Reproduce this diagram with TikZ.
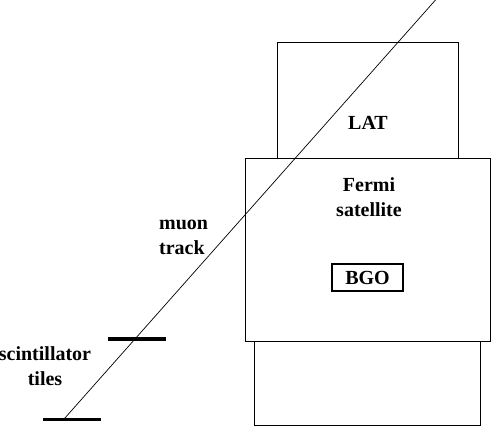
\documentclass[tikz,border=0pt]{standalone}
\usepackage{fontspec}
\setmainfont{Liberation Serif}
\begin{document}
\begin{tikzpicture}[x=1pt,y=-1pt,
  box/.style={draw, line width=0.9pt, inner sep=0pt, anchor=north west},
  lbl/.style={font=\fontsize{20}{24.5}\selectfont\bfseries, inner sep=0pt},
  tile/.style={fill=black, inner sep=0pt, minimum width=58pt, minimum height=3.6pt}]
\useasboundingbox (0,0) rectangle (491,426);
% satellite parts
\node[box, minimum width=181pt, minimum height=116pt] (lat) at (277,42) {};
\node[box, minimum width=245pt, minimum height=183pt] (fermi) at (245,158) {};
\node[box, minimum width=226pt, minimum height=84pt] (lower) at (254,341) {};
\node[draw, line width=1.8pt, inner sep=0pt, minimum width=71pt, minimum height=27pt,
  font=\fontsize{20}{24.5}\selectfont\bfseries] (bgo) at (367.5,277.5) {BGO};
% labels
\node[lbl, anchor=base] (latlbl) at (368,129.3) {LAT};
\node[lbl, anchor=base, align=center] (fermilbl) at (369,216) {Fermi\\satellite};
\node[lbl, anchor=base west, align=left] (muonlbl) at (159,254) {muon\\track};
\node[lbl, anchor=base, align=center] (scintlbl) at (45,385) {scintillator\\tiles};
% scintillator tiles
\node[tile] (tileup) at (137,339) {};
\node[tile] (tilelow) at (71.8,419.3) {};
% muon track
\coordinate (trackstart) at (64.5,418.5);
\coordinate (trackend) at (435.5,0);
\draw[line width=0.7pt] (trackstart) -- (trackend);
\end{tikzpicture}
\end{document}
